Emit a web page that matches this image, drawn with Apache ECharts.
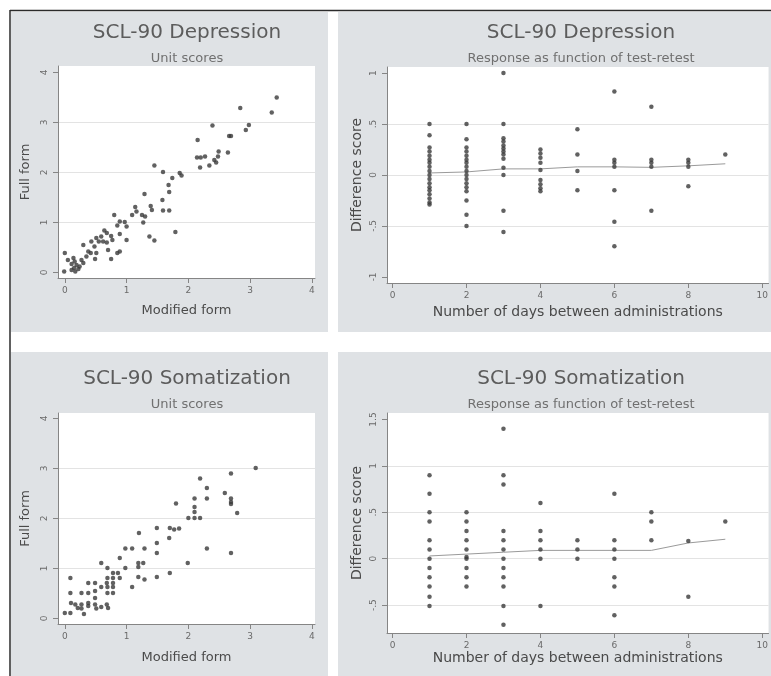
<!DOCTYPE html>
<html>
<head>
<meta charset="utf-8">
<title>SCL-90 test-retest</title>
<script src="https://cdn.jsdelivr.net/npm/echarts@6/dist/echarts.min.js"></script>
<style>
	html, body { margin: 0; padding: 0; background: #fff; }
	#main { width: 771px; height: 676px; }
</style>
</head>
<body>
<div id="main"></div>
<script>
// ---- data ----

// Depression, unit scores: modified form vs full form
var depModified = [3.43, 3.35, 2.84, 2.98, 2.93, 2.66, 2.69, 2.64, 2.39, 2.15, 2.14, 2.20, 2.27, 2.19, 2.34, 2.42, 2.48, 2.49, 2.45,
	1.45, 1.59, 1.74, 1.86, 1.89, 1.68, 1.69, 1.58, 1.59, 1.69, 1.29, 1.14, 1.16, 1.25, 1.30, 1.27, 1.39, 1.41, 1.09, 1.79, 1.37, 1.45,
	0.80, 0.89, 0.97, 0.85, 1.00, 0.89, 1.00, 0.64, 0.68, 0.59, 0.75, 0.77, 0.51, 0.55, 0.62, 0.68, 0.43, 0.48, 0.38, 0.42, 0.35, 0.51,
	0.49, 0.70, 0.85, 0.89, 0.75, 0.30, 0.00, 0.05, 0.14, 0.16, 0.11, 0.19, 0.15, 0.22, 0.17, 0.24, 0.27, -0.01, 0.11, 0.30];
var depFull = [3.50, 3.20, 3.29, 2.95, 2.85, 2.73, 2.73, 2.40, 2.94, 2.65, 2.30, 2.30, 2.32, 2.10, 2.14, 2.25, 2.32, 2.42, 2.20,
	2.14, 2.01, 1.89, 1.99, 1.94, 1.75, 1.61, 1.45, 1.24, 1.24, 1.57, 1.31, 1.22, 1.15, 1.12, 1.00, 1.33, 1.25, 1.15, 0.81, 0.72, 0.64,
	1.15, 1.02, 1.01, 0.94, 0.92, 0.77, 0.65, 0.84, 0.79, 0.72, 0.73, 0.65, 0.69, 0.62, 0.62, 0.60, 0.62, 0.52, 0.42, 0.39, 0.32, 0.39,
	0.27, 0.45, 0.39, 0.42, 0.27, 0.55, 0.39, 0.25, 0.29, 0.22, 0.17, 0.15, 0.09, 0.07, 0.02, 0.12, 0.25, 0.02, 0.05, 0.19];

// Somatization, unit scores
var somModified = [3.09, 2.69, 2.19, 2.30, 2.30, 2.59, 2.69, 2.69, 2.69, 2.79, 2.10, 2.10, 2.10, 2.00, 2.10, 2.19, 1.80, 2.30, 2.69, 1.99,
	1.49, 1.70, 1.77, 1.85, 1.69, 1.49, 1.49, 1.20, 0.98, 1.09, 1.29, 0.89, 1.19, 1.27, 1.19, 0.98, 1.09, 1.19, 1.29, 1.49, 1.70,
	0.59, 0.69, 0.78, 0.86, 0.78, 0.89, 0.69, 0.68, 0.78, 0.59, 0.69, 0.78, 0.69, 0.78, 0.09, 0.09, 0.27, 0.38, 0.49, 0.38, 0.49,
	0.10, 0.17, 0.27, 0.21, 0.27, 0.38, 0.49, 0.51, 0.59, 0.68, 0.70, 0.31, 0.00, 0.09, 0.38, 0.49];
var somFull = [3.01, 2.90, 2.80, 2.61, 2.40, 2.51, 2.40, 2.33, 2.29, 2.11, 2.40, 2.23, 2.13, 2.01, 2.01, 2.01, 2.30, 1.40, 1.31, 1.11,
	1.81, 1.81, 1.78, 1.80, 1.61, 1.51, 1.31, 1.71, 1.40, 1.40, 1.40, 1.21, 1.11, 1.11, 1.03, 1.01, 0.63, 0.83, 0.78, 0.83, 0.91,
	1.11, 1.01, 0.91, 0.91, 0.81, 0.81, 0.81, 0.71, 0.71, 0.63, 0.63, 0.63, 0.51, 0.51, 0.81, 0.51, 0.51, 0.51, 0.71, 0.71, 0.41,
	0.31, 0.28, 0.28, 0.21, 0.20, 0.25, 0.28, 0.20, 0.23, 0.28, 0.21, 0.09, 0.11, 0.11, 0.31, 0.55];

// Depression, difference score by days between administrations
var depDays = [1, 1, 1, 1, 1, 1, 1, 1, 1, 1, 1, 1, 1, 1, 1, 1, 1, 1,
	2, 2, 2, 2, 2, 2, 2, 2, 2, 2, 2, 2, 2, 2, 2, 2, 2,
	3, 3, 3, 3, 3, 3, 3, 3, 3, 3, 3, 3, 3,
	4, 4, 4, 4, 4, 4, 4, 4, 4,
	5, 5, 5, 5,
	6, 6, 6, 6, 6, 6, 6,
	7, 7, 7, 7, 7,
	8, 8, 8, 8,
	9];
var depDiff = [0.50, 0.39, 0.27, 0.23, 0.19, 0.15, 0.12, 0.08, 0.04, 0.00, -0.04, -0.08, -0.12, -0.15, -0.19, -0.23, -0.27, -0.29,
	0.50, 0.35, 0.27, 0.23, 0.19, 0.15, 0.12, 0.08, 0.04, 0.00, -0.04, -0.08, -0.12, -0.16, -0.25, -0.39, -0.50,
	1.00, 0.50, 0.36, 0.33, 0.29, 0.26, 0.23, 0.20, 0.16, 0.07, 0.00, -0.35, -0.56,
	0.25, 0.21, 0.17, 0.12, 0.05, -0.05, -0.09, -0.13, -0.16,
	0.45, 0.20, 0.04, -0.15,
	0.82, 0.15, 0.12, 0.08, -0.15, -0.46, -0.70,
	0.67, 0.15, 0.12, 0.08, -0.35,
	0.15, 0.12, 0.08, -0.11,
	0.20];

// Somatization, difference score by days between administrations
var somDays = [1, 1, 1, 1, 1, 1, 1, 1, 1, 1, 1, 1,
	2, 2, 2, 2, 2, 2, 2, 2, 2, 2,
	3, 3, 3, 3, 3, 3, 3, 3, 3, 3, 3, 3,
	4, 4, 4, 4, 4, 4,
	5, 5, 5,
	6, 6, 6, 6, 6, 6, 6,
	7, 7, 7,
	8, 8,
	9];
var somDiff = [0.90, 0.70, 0.50, 0.40, 0.20, 0.10, 0.00, -0.10, -0.20, -0.30, -0.41, -0.51,
	0.50, 0.40, 0.30, 0.20, 0.10, 0.02, 0.00, -0.10, -0.20, -0.30,
	1.40, 0.90, 0.80, 0.30, 0.20, 0.10, 0.00, -0.10, -0.20, -0.30, -0.51, -0.71,
	0.60, 0.30, 0.20, 0.10, 0.00, -0.51,
	0.20, 0.10, 0.00,
	0.70, 0.20, 0.10, 0.00, -0.20, -0.30, -0.61,
	0.50, 0.40, 0.20,
	0.19, -0.41,
	0.40];

// smoothed (lowess) lines
var lowessDays = [1, 2, 3, 4, 5, 6, 7, 8, 9];
var depLowess = [0.02, 0.03, 0.06, 0.06, 0.08, 0.08, 0.075, 0.09, 0.11];
var somLowess = [0.03, 0.05, 0.07, 0.09, 0.09, 0.09, 0.09, 0.17, 0.21];

// tick labels
var unitTicks = [0, 1, 2, 3, 4];
var dayTicks = [0, 2, 4, 6, 8, 10];
var depDiffTicks = [-1, -0.5, 0, 0.5, 1];
var somDiffTicks = [-0.5, 0, 0.5, 1, 1.5];

// ---- helpers ----
function pairs(xs, ys) {
	var out = [];
	for (var i = 0; i < xs.length; i++) out.push([xs[i], ys[i]]);
	return out;
}

function stataNum(v) {
	// Stata writes .5 and -.5
	return String(v).replace(/^(-?)0\./, '$1.');
}

var FONT = 'DejaVu Sans';
var axisColor = '#858585';

function xAxisOf(grid, min, max, ticks, name, gap) {
	return {
		type: 'value', gridIndex: grid, min: min, max: max,
		name: name, nameLocation: 'middle', nameGap: gap,
		nameTextStyle: { fontFamily: FONT, fontSize: grid % 2 ? 14 : 13, color: '#4a4a4a' },
		axisLine: { show: true, onZero: false, lineStyle: { color: axisColor, width: 1 } },
		axisTick: { show: true, length: 5, customValues: ticks, lineStyle: { color: axisColor } },
		axisLabel: { customValues: ticks, margin: 8, fontFamily: FONT, fontSize: 9, color: '#6a6a6a', formatter: stataNum },
		splitLine: { show: false }
	};
}

function yAxisOf(grid, min, max, ticks, name, gap, showMin, showMax) {
	return {
		type: 'value', gridIndex: grid, min: min, max: max,
		name: name, nameLocation: 'middle', nameGap: gap,
		nameTextStyle: { fontFamily: FONT, fontSize: grid % 2 ? 14 : 13, color: '#4a4a4a' },
		axisLine: { show: true, onZero: false, lineStyle: { color: axisColor, width: 1 } },
		axisTick: { show: true, length: 5, customValues: ticks, lineStyle: { color: axisColor } },
		axisLabel: { customValues: ticks, rotate: 90, margin: 9, fontFamily: FONT, fontSize: 9, color: '#6a6a6a', formatter: stataNum },
		splitLine: { show: true, showMinLine: showMin, showMaxLine: showMax, lineStyle: { color: '#e3e3e3', width: 1 } }
	};
}

function titleOf(text, sub, cx, top) {
	return {
		text: text, subtext: sub, left: cx, top: top, textAlign: 'center', padding: 0, itemGap: 9,
		textStyle: { fontFamily: FONT, fontSize: 20, fontWeight: 'normal', color: '#5c5c5c' },
		subtextStyle: { fontFamily: FONT, fontSize: 13, color: '#707070' }
	};
}

function scatterOf(idx, data) {
	return {
		type: 'scatter', xAxisIndex: idx, yAxisIndex: idx, data: data,
		symbol: 'circle', symbolSize: 4.5, silent: true,
		itemStyle: { color: '#3a3a3a' }
	};
}

function lowessOf(idx, data) {
	return {
		type: 'line', xAxisIndex: idx, yAxisIndex: idx, data: data,
		showSymbol: false, silent: true, z: 1,
		lineStyle: { color: '#9a9a9a', width: 1 }
	};
}

var panelGray = '#dfe2e5';

var option = {
	backgroundColor: '#fff',
	animation: false,
	title: [
		titleOf('SCL-90 Depression', 'Unit scores', 187, 23),
		titleOf('SCL-90 Depression', 'Response as function of test-retest', 581, 23),
		titleOf('SCL-90 Somatization', 'Unit scores', 187, 369),
		titleOf('SCL-90 Somatization', 'Response as function of test-retest', 581, 369)
	],
	grid: [
		{ left: 58, top: 66, width: 257, height: 212, show: true, backgroundColor: '#fff', borderWidth: 0 },
		{ left: 387, top: 67, width: 386, height: 216, show: true, backgroundColor: '#fff', borderWidth: 0 },
		{ left: 58, top: 413, width: 257, height: 211, show: true, backgroundColor: '#fff', borderWidth: 0 },
		{ left: 387, top: 413, width: 386, height: 220, show: true, backgroundColor: '#fff', borderWidth: 0 }
	],
	xAxis: [
		xAxisOf(0, -0.11, 4.05, unitTicks, 'Modified form', 26),
		xAxisOf(1, -0.15, 10.17, dayTicks, 'Number of days between administrations', 22),
		xAxisOf(2, -0.11, 4.05, unitTicks, 'Modified form', 27),
		xAxisOf(3, -0.15, 10.17, dayTicks, 'Number of days between administrations', 18)
	],
	yAxis: [
		yAxisOf(0, -0.11, 4.13, unitTicks, 'Full form', 26, false, false),
		yAxisOf(1, -1.06, 1.06, depDiffTicks, 'Difference score', 23, false, false),
		yAxisOf(2, -0.11, 4.11, unitTicks, 'Full form', 26, false, false),
		yAxisOf(3, -0.80, 1.57, somDiffTicks, 'Difference score', 23, true, false)
	],
	series: [
		scatterOf(0, pairs(depModified, depFull)),
		scatterOf(1, pairs(depDays, depDiff)),
		lowessOf(1, pairs(lowessDays, depLowess)),
		scatterOf(2, pairs(somModified, somFull)),
		scatterOf(3, pairs(somDays, somDiff)),
		lowessOf(3, pairs(lowessDays, somLowess))
	],
	graphic: [
		// panel backgrounds
		{ type: 'rect', z: -100, shape: { x: 11, y: 12, width: 317, height: 320 }, style: { fill: panelGray } },
		{ type: 'rect', z: -100, shape: { x: 338, y: 12, width: 440, height: 320 }, style: { fill: panelGray } },
		{ type: 'rect', z: -100, shape: { x: 11, y: 352, width: 317, height: 330 }, style: { fill: panelGray } },
		{ type: 'rect', z: -100, shape: { x: 338, y: 352, width: 440, height: 330 }, style: { fill: panelGray } },
		// outer frame
		{ type: 'line', z: 100, shape: { x1: 10, y1: 10.5, x2: 771, y2: 10.5 }, style: { stroke: '#2b2b2b', lineWidth: 1.5 } },
		{ type: 'line', z: 100, shape: { x1: 10, y1: 10, x2: 10, y2: 676 }, style: { stroke: '#2b2b2b', lineWidth: 1.5 } }
	]
};

var chart = echarts.init(document.getElementById('main'));
chart.setOption(option);
</script>
</body>
</html>
